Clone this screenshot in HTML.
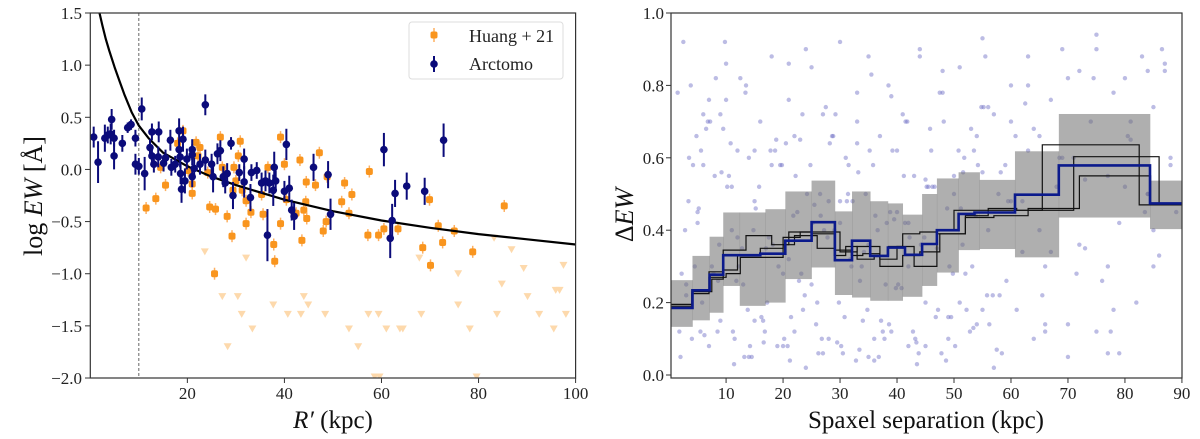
<!DOCTYPE html>
<html><head><meta charset="utf-8"><style>
html,body{margin:0;padding:0;background:#fff;}
svg{display:block;font-family:"Liberation Serif",serif;}
</style></head><body>
<svg id="c" width="1200" height="439" viewBox="0 0 1200 439" xmlns="http://www.w3.org/2000/svg"></svg>
<script>
// ---- Left panel data ----
const blueR=[0.7,1.6,3.0,3.6,4.2,4.4,4.9,4.9,6.6,7.7,8.4,9.3,9.3,10.0,10.6,11.2,12.3,12.7,12.7,13.1,14.1,14.0,15.1,15.5,16.5,16.7,17.5,18.3,18.3,18.5,18.6,18.8,19.1,19.5,19.9,21,21,21.4,21,22.6,23.7,23.7,25,25.3,26.2,26.8,27.4,27.8,28.2,29,29.4,30.7,31.7,31.7,33,33.2,34.3,35.3,36.1,36.5,36.9,37.7,37.9,38.2,40,40.4,41,41.5,42,46,49,49.5,60.5,61.8,62.2,62.8,65.2,68.9,72.8];
const blueY=[0.31,0.07,0.30,0.33,0.34,0.48,0.30,0.13,0.25,0.40,0.43,0.30,0.05,0.03,0.58,-0.04,0.21,0.36,0.13,0.05,0.36,0.12,0.06,0.11,0.28,0.02,0.05,0.37,0.19,0.12,-0.04,-0.19,0.29,-0.11,0.10,0.19,0.14,0.01,-0.07,0.05,0.62,0.09,0.05,-0.07,0.15,0.18,-0.07,-0.13,-0.04,0.25,-0.25,-0.03,0.10,-0.12,-0.27,-0.03,-0.01,-0.13,-0.11,-0.63,-0.13,-0.20,0.02,-0.11,-0.21,0.24,-0.18,-0.39,-0.45,0.02,-0.05,-0.43,0.19,-0.66,-0.49,-0.23,-0.16,-0.21,0.28];
const blueErr=[0.1,0.2,0.13,0.08,0.1,0.1,0.08,0.13,0.08,0.05,0.05,0.08,0.1,0.08,0.11,0.16,0.08,0.08,0.1,0.08,0.1,0.1,0.08,0.08,0.1,0.08,0.08,0.12,0.1,0.1,0.1,0.13,0.12,0.12,0.1,0.1,0.1,0.1,0.1,0.1,0.1,0.1,0.1,0.15,0.1,0.1,0.1,0.1,0.1,0.06,0.13,0.08,0.1,0.15,0.13,0.08,0.08,0.1,0.1,0.25,0.1,0.15,0.15,0.1,0.1,0.15,0.12,0.1,0.13,0.13,0.13,0.15,0.16,0.19,0.16,0.13,0.13,0.13,0.16];
const orR=[11.5,13.5,14.5,15.5,18,19.1,20.2,21,21,21.8,22.2,22.6,24.2,24.6,25.8,25.6,26.8,27.2,28.2,29.2,29.4,29.6,30.0,30.5,30.9,31.3,32.1,32.1,33.1,35.3,35.6,36.6,37.8,38,39.2,39.2,40,40.4,42.4,43.2,43.6,44,44.4,44.5,44.6,46.4,47.2,48,48.6,48.8,51.8,52.4,53.3,53.9,57.2,57.5,59.4,60.5,63.4,68.5,69.9,70.1,71.7,72.6,75,78.8,85.3];
const orY=[-0.37,-0.28,0.02,-0.15,0.25,0.37,-0.01,-0.23,-0.14,0.26,0.13,0.21,-0.03,-0.36,-0.38,-1.0,0.31,0.02,-0.45,-0.64,-0.2,0.02,-0.11,0.13,0.27,-0.2,-0.3,-0.52,-0.41,-0.24,-0.43,0.02,-0.72,-0.88,0.31,-0.52,0.05,-0.29,-0.42,0.09,-0.68,-0.39,-0.31,-0.12,-0.47,-0.15,0.16,-0.59,-0.5,-0.07,-0.31,-0.13,-0.42,-0.24,-0.63,-0.02,-0.63,-0.57,-0.57,-0.75,-0.29,-0.92,-0.54,-0.7,-0.59,-0.79,-0.35];
const triR=[23.6,27.2,28.3,30.4,31.2,32.1,33.4,37.7,40.7,43.4,44.0,44.9,48.4,53.3,55.2,57.3,59.4,61.0,63.8,64.4,67.8,68.2,75.8,75.8,78.2,83.2,83.8,84.8,86.8,89.3,90.1,92.5,95.5,95.9,96.7,97.5,98.0,58.6,59.6,79.6];
const triY=[-0.79,-1.22,-1.70,-1.22,-1.39,-0.85,-1.53,-1.30,-1.39,-1.39,-1.22,-1.30,-1.39,-1.53,-1.70,-1.39,-1.39,-1.53,-1.53,-1.53,-0.85,-1.39,-1.0,-1.30,-1.53,-0.66,-1.39,-1.10,-0.77,-0.95,-1.22,-1.39,-1.53,-1.16,-1.16,-0.92,-1.39,-1.99,-1.99,-1.99];
const curveR=[1.9,2.5,3.2,3.9,5,6,7,8.5,10,12,15,20,25,30,40,50,60,70,80,90,100];
const curveY=[1.5,1.38,1.25,1.14,0.98,0.85,0.72,0.55,0.42,0.30,0.16,0.03,-0.07,-0.15,-0.29,-0.40,-0.49,-0.56,-0.62,-0.67,-0.72];
const leftXTicks=[20,40,60,80,100];
const leftYTicks=[1.5,1.0,0.5,0.0,-0.5,-1.0,-1.5,-2.0];
// ---- Right panel data ----
const blueEdges=[0,4.1,7.1,9.5,16,20.4,25,29.1,32.1,35.3,38.4,41.4,44.4,47,50.8,53.6,60.7,68.4,84.4,90];
const blueVals=[0.185,0.234,0.277,0.331,0.335,0.371,0.422,0.317,0.371,0.329,0.352,0.332,0.362,0.40,0.445,0.449,0.498,0.579,0.474];
const bandEdges=[0,4.1,7.1,9.5,12.4,16.9,20.4,25,29.1,32.1,35.3,38.4,41,44.4,47,50.8,54.5,60.7,68.4,84.4,90];
const bandLo=[0.133,0.151,0.172,0.246,0.191,0.2,0.265,0.297,0.221,0.214,0.205,0.205,0.216,0.246,0.283,0.345,0.348,0.325,0.435,0.403];
const bandHi=[0.262,0.329,0.382,0.449,0.449,0.458,0.507,0.537,0.452,0.507,0.48,0.474,0.443,0.5,0.543,0.56,0.539,0.618,0.721,0.537];
const b1Edges=[0,4,7,9.5,13.5,18,21,25,29,31,33,36,38.5,41,44,47,50,56,63,65.5,82.5,90];
const b1Vals=[0.195,0.225,0.285,0.345,0.385,0.36,0.395,0.39,0.33,0.355,0.32,0.33,0.355,0.39,0.395,0.4,0.455,0.455,0.455,0.636,0.47];
const b2Edges=[0,4,7.5,9.5,12,16,20,23,27,30,33,37,40,43,47,52,56,61,68.5,71,86,90];
const b2Vals=[0.185,0.23,0.265,0.29,0.33,0.35,0.38,0.395,0.395,0.34,0.355,0.32,0.355,0.3,0.39,0.44,0.46,0.455,0.455,0.603,0.475];
const b3Edges=[0,4,7,10,12.5,20,22,26,29,32,34,37,41,44,47.5,52,57,63,72,84.5,90];
const b3Vals=[0.19,0.235,0.27,0.28,0.325,0.36,0.385,0.35,0.345,0.33,0.335,0.3,0.33,0.34,0.39,0.435,0.44,0.46,0.55,0.475];
const sepX=[1.5,2,3,3.5,4,5,5.5,6,7,7.5,8,9,9.5,10,11,11.5,12,13,13.5,14,15,16,16.5,17,18,19,19.5,20,21,22,22.5,23,24,25,26,26.5,27,28,29,30,30.5,31,32,33,34,34.5,35,36,37,38,38.5,39,40,41,42,43,44,45,46,47,48,49,50,51,52,53,54,55,56,57,58,59,60,61,62,63,64,65,66,67,68,69,70,71,72,73,74,75,76,77,78,79,80,81,82,83,84,85,86,87,88,89,2.5,4.5,6.5,8.5,10.5,12.5,14.5,17.5,20.5,23.5,25.5,27.5,29.5,31.5,33.5,35.5,37.5,39.5,41.5,43.5,45.5,47.5,49.5,51.5,53.5,55.5,57.5,59.5,62.5,65.5,68.5,71.5,74.5,77.5,80.5,83.5,86.5,3,6,9,12,15,18,21,24,27,30,33,36,39,42,45,48,51,54,57,60,63,66,69,72,75,78,81,84,87,5,10,15,20,25,30,35,40,45,50,55,60,65,70,75,80,85,7,14,21,28,35,42,49,56,63,70,77,84,11,22,33,44,55,66,77,88,
2.2,3.8,5.2,6.8,8.2,9.8,11.2,12.8,14.2,15.8,17.2,18.8,20.2,21.8,23.2,24.8,26.2,27.8,29.2,30.8,32.2,33.8,35.2,36.8,38.2,39.8,41.2,42.8,44.2,45.8,47.2,48.8,50.2,51.8,53.2,54.8,56.2,57.8,59.2,60.8,2.8,4.2,5.8,7.2,8.8,10.2,11.8,13.2,14.8,16.2,17.8,19.2,20.8,22.2,23.8,25.2,26.8,28.2,29.8,31.2,32.8,34.2,35.8,37.2,38.8,40.2,41.8,43.2,44.8,46.2,47.8,49.2,50.8,52.2,53.8,55.2,56.8,58.2,62,64,1.8,3.4,5.6,7.8,9.2,10.8,12.2,13.8,15.2,16.8,18.2,19.8,21.2,22.8,24.2,25.8,27.2,28.8,30.2,31.8,33.2,34.8,36.2,37.8,39.2,40.8,42.2,43.8,45.2,46.8,48.2,49.8,51.2,52.8,54.2,55.8,67,73,79,85,4.8,8.6,13.4,18.6,23.4,28.6,33.4,38.6,43.4,48.6,53.4,58.4,6.2,11.4,16.6,21.4,26.6,31.4,36.6,41.4,46.6,51.6];
const sepY=[0.78,0.05,0.22,0.60,0.10,0.45,0.12,0.72,0.08,0.30,0.55,0.15,0.68,0.86,0.40,0.10,0.62,0.25,0.80,0.05,0.48,0.70,0.15,0.35,0.88,0.08,0.58,0.28,0.76,0.12,0.45,0.65,0.02,0.85,0.20,0.50,0.72,0.10,0.40,0.92,0.06,0.60,0.30,0.78,0.15,0.50,0.88,0.04,0.66,0.25,0.80,0.12,0.45,0.72,0.08,0.55,0.90,0.20,0.62,0.35,0.78,0.10,0.50,0.85,0.28,0.68,0.14,0.93,0.40,0.72,0.22,0.58,0.80,0.18,0.48,0.88,0.10,0.66,0.30,0.76,0.52,0.90,0.14,0.60,0.84,0.35,0.70,0.94,0.26,0.55,0.78,0.42,0.82,0.65,0.20,0.88,0.50,0.74,0.33,0.86,0.60,0.45,0.92,0.30,0.68,0.12,0.55,0.82,0.05,0.38,0.64,0.18,0.47,0.74,0.09,0.58,0.26,0.83,0.12,0.43,0.70,0.03,0.52,0.78,0.16,0.36,0.62,0.88,0.07,0.48,0.75,0.22,0.60,0.28,0.82,0.12,0.66,0.45,0.90,0.25,0.58,0.72,0.38,0.15,0.58,0.32,0.90,0.06,0.42,0.64,0.10,0.77,0.30,0.54,0.84,0.20,0.66,0.02,0.48,0.80,0.14,0.60,0.36,0.90,0.18,0.70,0.50,0.84,0.42,0.76,0.62,0.08,0.25,0.48,0.36,0.62,0.08,0.55,0.18,0.70,0.40,0.82,0.12,0.52,0.30,0.76,0.60,0.86,0.48,0.05,0.42,0.16,0.74,0.62,0.05,0.30,0.84,0.52,0.66,0.70,0.88,0.56,0.12,0.06,0.58,0.28,0.80,0.46,0.70,0.82,0.92,
0.12,0.35,0.08,0.52,0.20,0.65,0.10,0.44,0.28,0.58,0.06,0.38,0.72,0.16,0.48,0.30,0.62,0.05,0.42,0.24,0.55,0.12,0.36,0.68,0.18,0.46,0.08,0.60,0.30,0.74,0.14,0.50,0.26,0.66,0.40,0.58,0.20,0.70,0.36,0.52,0.26,0.05,0.40,0.16,0.62,0.30,0.08,0.55,0.22,0.42,0.10,0.64,0.20,0.48,0.04,0.34,0.58,0.15,0.45,0.25,0.70,0.10,0.38,0.52,0.06,0.30,0.62,0.18,0.44,0.74,0.22,0.56,0.34,0.68,0.12,0.48,0.62,0.28,0.56,0.64,0.30,0.18,0.46,0.12,0.36,0.58,0.04,0.26,0.50,0.14,0.40,0.66,0.08,0.32,0.56,0.18,0.44,0.10,0.62,0.24,0.38,0.06,0.52,0.16,0.70,0.28,0.46,0.12,0.58,0.22,0.34,0.54,0.06,0.40,0.66,0.26,0.78,0.62,0.72,0.66,0.07,0.14,0.09,0.04,0.13,0.06,0.11,0.03,0.09,0.16,0.44,0.50,0.40,0.42,0.52,0.56,0.46,0.40,0.54,0.60,0.48,0.44];
const rightXTicks=[10,20,30,40,50,60,70,80,90];
const rightYTicks=[0.0,0.2,0.4,0.6,0.8,1.0];

const svg=document.getElementById('c');
const NS='http://www.w3.org/2000/svg';
function mk(tag,attrs,parent){const e=document.createElementNS(NS,tag);for(const k in attrs)e.setAttribute(k,attrs[k]);(parent||svg).appendChild(e);return e;}
const LX=r=>90.3+r*4.853, LY=v=>13+(1.5-v)*104.29;

// ===== LEFT PANEL =====
const gL=mk('g',{});


const clipL=mk('clipPath',{id:'cl'});mk('rect',{x:90.3,y:13,width:485.3,height:365},clipL);
const plotL=mk('g',{'clip-path':'url(#cl)'},gL);
triR.forEach((r,i)=>{const x=LX(r),y=LY(triY[i]);const t=mk('polygon',{points:`${x-4},${y-3.5} ${x+4},${y-3.5} ${x},${y+3.5}`,fill:'#fdd9ac'},plotL);

});
orR.forEach((r,i)=>{const x=LX(r),y=LY(orY[i]);mk('line',{x1:x,x2:x,y1:y-6,y2:y+6,stroke:'#fdb061','stroke-width':1.5},plotL);const c=mk('rect',{x:x-3.5,y:y-3.5,width:7,height:7,rx:2,fill:'#f9951e'},plotL);

});
const dash=mk('line',{x1:LX(10),x2:LX(10),y1:13,y2:378,stroke:'#555','stroke-width':0.9,'stroke-dasharray':'3,2'},plotL);


let d='';curveR.forEach((r,i)=>{d+=(i?'L':'M')+LX(r).toFixed(1)+','+LY(curveY[i]).toFixed(1);});
const cv=mk('path',{d:d,fill:'none',stroke:'#000','stroke-width':2.2,'stroke-linejoin':'round'},plotL);


blueR.forEach((r,i)=>{const x=LX(r),y=LY(blueY[i]),e=blueErr[i]*104.29;mk('line',{x1:x,x2:x,y1:y-e,y2:y+e,stroke:'#0b0b7a','stroke-width':2},plotL);const c=mk('circle',{cx:x,cy:y,r:3.8,fill:'#0b0b7a'},plotL);

});
mk('rect',{x:90.3,y:13,width:485.3,height:365,fill:'none',stroke:'#333','stroke-width':1.2},gL);
leftXTicks.forEach(t=>{const x=LX(t);mk('line',{x1:x,x2:x,y1:378,y2:383,stroke:'#333'},gL);const l=mk('text',{x:x,y:399,'text-anchor':'middle','font-size':17,fill:'#222'},gL);l.textContent=t;

});
leftYTicks.forEach(t=>{const y=LY(t);mk('line',{x1:85,x2:90.3,y1:y,y2:y,stroke:'#333'},gL);const l=mk('text',{x:82,y:y+6,'text-anchor':'end','font-size':17,fill:'#222'},gL);l.textContent=(t<0?'\u2212':'')+Math.abs(t).toFixed(1);

});
</script>
<script>
(function(){
const svg=document.getElementById('c');const NS='http://www.w3.org/2000/svg';
function mk(tag,attrs,parent){const e=document.createElementNS(NS,tag);for(const k in attrs)e.setAttribute(k,attrs[k]);(parent||svg).appendChild(e);return e;}
const RX=s=>669.1+s*5.698, RY=v=>375-v*362;
const lg=mk('g',{});


mk('rect',{x:409,y:22,width:154,height:57,rx:3,fill:'#fff',stroke:'#ddd'},lg);
mk('line',{x1:434,x2:434,y1:28,y2:42,stroke:'#fdb061','stroke-width':1.5},lg);
mk('rect',{x:430.5,y:31.5,width:7,height:7,rx:2,fill:'#f9951e'},lg);
mk('line',{x1:434,x2:434,y1:56,y2:72,stroke:'#0b0b7a','stroke-width':2},lg);
mk('circle',{cx:434,cy:64,r:3.8,fill:'#0b0b7a'},lg);
const t1=mk('text',{x:469,y:42,'font-size':18,fill:'#222'},lg);t1.textContent='Huang + 21';


const t2=mk('text',{x:469,y:70,'font-size':18,fill:'#222'},lg);t2.textContent='Arctomo';


const xl=mk('text',{x:333,y:428,'text-anchor':'middle','font-size':25,fill:'#111'});xl.innerHTML='<tspan font-style="italic">R′</tspan> (kpc)';


const yl=mk('text',{x:0,y:0,'text-anchor':'middle','font-size':26,fill:'#111',transform:'translate(42,196) rotate(-90)'});yl.innerHTML='log <tspan font-style="italic">EW</tspan> [Å]';



const gR=mk('g',{});


const clipR=mk('clipPath',{id:'cr'});mk('rect',{x:671,y:13,width:511,height:365},clipR);
const p=mk('g',{'clip-path':'url(#cr)'},gR);
sepX.forEach((s,i)=>{const c=mk('circle',{cx:RX(s),cy:RY(sepY[i]),r:2.2,fill:'#6a6ac4','fill-opacity':0.45},p);

});
bandLo.forEach((lo,i)=>{const x0=RX(bandEdges[i]),x1=RX(bandEdges[i+1]);const r=mk('rect',{x:x0,y:RY(bandHi[i]),width:x1-x0+0.3,height:RY(lo)-RY(bandHi[i]),fill:'#6e6e6e','fill-opacity':0.55},p);

});
function step(edges,vals,col,w,name){let d='';vals.forEach((v,i)=>{d+=(i?'L':'M')+RX(edges[i]).toFixed(1)+','+RY(v).toFixed(1)+'L'+RX(edges[i+1]).toFixed(1)+','+RY(v).toFixed(1);});
const e=mk('path',{d:d,fill:'none',stroke:col,'stroke-width':w},p);

}
step(b1Edges,b1Vals,'#111',1.2,'mock-step-1');
step(b2Edges,b2Vals,'#111',1.2,'mock-step-2');
step(b3Edges,b3Vals,'#111',1.2,'mock-step-3');
step(blueEdges,blueVals,'#0b1a8c',2.6,'median-step');
mk('rect',{x:671,y:13,width:511,height:365,fill:'none',stroke:'#333','stroke-width':1.2},gR);
rightXTicks.forEach(t=>{const x=RX(t);mk('line',{x1:x,x2:x,y1:378,y2:383,stroke:'#333'},gR);const l=mk('text',{x:x,y:399,'text-anchor':'middle','font-size':17,fill:'#222'},gR);l.textContent=t;

});
rightYTicks.forEach(t=>{const y=RY(t);mk('line',{x1:666,x2:671,y1:y,y2:y,stroke:'#333'},gR);const l=mk('text',{x:664,y:y+6,'text-anchor':'end','font-size':17,fill:'#222'},gR);l.textContent=t.toFixed(1);

});
const xr=mk('text',{x:926,y:428,'text-anchor':'middle','font-size':25,fill:'#111'});xr.textContent='Spaxel separation (kpc)';


const yr=mk('text',{x:0,y:0,'text-anchor':'middle','font-size':26,fill:'#111',transform:'translate(633,215) rotate(-90)'});yr.innerHTML='Δ<tspan font-style="italic">EW</tspan>';


})();
</script>
</body></html>
